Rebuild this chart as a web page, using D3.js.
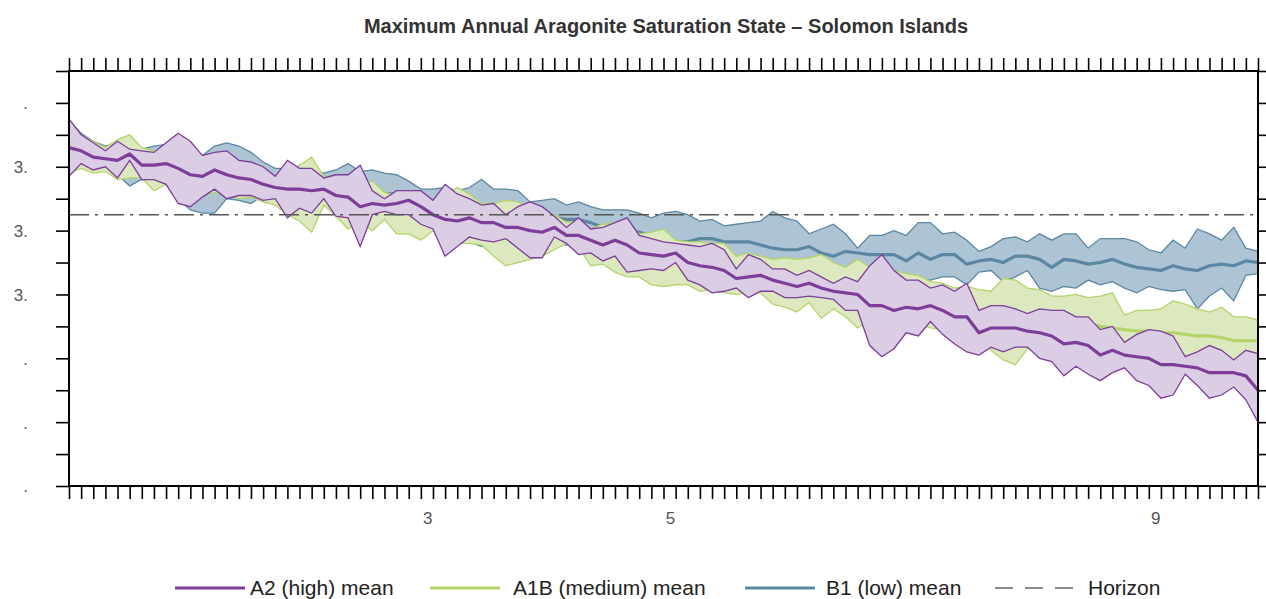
<!DOCTYPE html>
<html>
<head>
<meta charset="utf-8">
<script src="https://cdnjs.cloudflare.com/ajax/libs/d3/7.8.5/d3.min.js"></script>
<style>
body{margin:0;background:#fff;}
svg{display:block;font-family:"Liberation Sans",Arial,sans-serif;}
.axis text{fill:#555;font-size:17px;}
.axis line{stroke:#000;stroke-width:1.6;}
.axis path{display:none;}
</style>
</head>
<body>
<svg id="chart" width="1266" height="599"></svg>
<script>
var years=d3.range(2001,2100);

// A2 (high)
var a2Mean=[3.92,3.90,3.86,3.85,3.84,3.88,3.81,3.81,3.82,3.79, 3.75,3.74,3.78,3.75,3.73,3.72,3.69,3.67,3.66,3.66,
 3.65,3.66,3.62,3.61,3.55,3.57,3.56,3.57,3.59,3.55, 3.50,3.47,3.46,3.48,3.45,3.45,3.42,3.42,3.40,3.39,
 3.42,3.37,3.37,3.34,3.31,3.34,3.31,3.26,3.25,3.24, 3.26,3.20,3.18,3.17,3.15,3.10,3.11,3.12,3.09,3.07,
 3.05,3.07,3.04,3.02,3.01,3.00,2.93,2.93,2.90,2.92, 2.91,2.93,2.90,2.86,2.86,2.76,2.79,2.79,2.79,2.77,
 2.76,2.74,2.69,2.70,2.68,2.62,2.65,2.62,2.61,2.60, 2.56,2.56,2.55,2.54,2.51,2.51,2.51,2.49,2.40];
var a2Hi=[4.10,4.00,3.95,3.90,3.96,3.91,3.90,3.89,3.95,4.01, 3.96,3.87,3.89,3.90,3.84,3.83,3.80,3.74,3.84,3.79,
 3.79,3.73,3.75,3.75,3.81,3.65,3.60,3.65,3.65,3.65, 3.59,3.69,3.63,3.60,3.56,3.57,3.50,3.55,3.58,3.55,
 3.49,3.42,3.48,3.41,3.42,3.45,3.48,3.37,3.35,3.33, 3.32,3.31,3.30,3.32,3.28,3.16,3.25,3.22,3.16,3.16,
 3.12,3.15,3.11,3.07,3.11,3.08,3.18,3.25,3.15,3.09, 3.09,3.04,3.06,3.02,3.07,2.90,2.93,2.93,2.91,2.88,
 2.91,2.90,2.90,2.86,2.86,2.78,2.80,2.70,2.75,2.78, 2.77,2.74,2.61,2.64,2.68,2.65,2.59,2.65,2.63];
var a2Lo=[3.74,3.82,3.78,3.80,3.73,3.84,3.72,3.72,3.69,3.57, 3.55,3.61,3.66,3.60,3.62,3.62,3.59,3.60,3.48,3.54,
 3.51,3.60,3.49,3.48,3.30,3.50,3.52,3.50,3.50,3.44, 3.41,3.24,3.30,3.36,3.34,3.33,3.35,3.29,3.23,3.23,
 3.36,3.32,3.25,3.26,3.21,3.24,3.14,3.15,3.16,3.15, 3.20,3.09,3.06,3.01,3.02,3.04,2.98,3.02,3.02,2.98,
 2.98,2.99,2.98,2.97,2.90,2.90,2.68,2.61,2.66,2.76, 2.74,2.83,2.75,2.69,2.64,2.62,2.67,2.64,2.67,2.67,
 2.60,2.58,2.49,2.55,2.50,2.46,2.51,2.54,2.46,2.43, 2.35,2.37,2.50,2.43,2.35,2.37,2.42,2.34,2.20];

// A1B (medium)
var a1bMean=[3.92,3.90,3.87,3.86,3.86,3.87,3.83,3.82,3.82,3.79, 3.76,3.75,3.76,3.75,3.73,3.72,3.70,3.68,3.67,3.66,
 3.66,3.65,3.63,3.62,3.58,3.58,3.57,3.56,3.56,3.54, 3.51,3.49,3.49,3.49,3.47,3.46,3.44,3.44,3.42,3.41,
 3.42,3.39,3.38,3.36,3.35,3.35,3.33,3.29,3.28,3.27, 3.27,3.24,3.22,3.21,3.19,3.15,3.16,3.15,3.12,3.11,
 3.09,3.10,3.07,3.06,3.04,3.03,3.01,3.00,2.99,2.98, 2.97,2.96,2.95,2.93,2.93,2.88,2.89,2.89,2.88,2.86,
 2.86,2.85,2.84,2.83,2.82,2.80,2.79,2.78,2.77,2.77, 2.76,2.76,2.75,2.74,2.74,2.73,2.71,2.71,2.71];
var a1bHi=[4.08,4.00,3.96,3.92,3.97,4.00,3.92,3.90,3.90,3.88, 3.85,3.84,3.83,3.82,3.81,3.80,3.78,3.72,3.77,3.81,
 3.86,3.74,3.72,3.73,3.70,3.71,3.64,3.62,3.61,3.60, 3.58,3.62,3.67,3.63,3.57,3.57,3.59,3.58,3.54,3.52,
 3.50,3.45,3.46,3.41,3.44,3.45,3.44,3.38,3.39,3.41, 3.34,3.33,3.33,3.32,3.32,3.24,3.26,3.24,3.22,3.23,
 3.22,3.23,3.25,3.20,3.17,3.22,3.17,3.16,3.15,3.13, 3.12,3.08,3.07,3.04,3.05,3.03,3.02,3.10,3.09,3.04,
 3.03,2.99,2.99,3.00,2.98,2.99,3.01,2.87,2.90,2.90, 2.91,2.96,2.94,2.91,2.89,2.92,2.86,2.86,2.84];
var a1bLo=[3.76,3.79,3.76,3.77,3.72,3.73,3.73,3.65,3.69,3.60, 3.58,3.62,3.64,3.62,3.60,3.61,3.58,3.56,3.50,3.46,
 3.39,3.56,3.49,3.41,3.45,3.40,3.47,3.38,3.38,3.34, 3.40,3.30,3.32,3.32,3.31,3.24,3.18,3.20,3.22,3.24,
 3.28,3.32,3.30,3.18,3.19,3.14,3.11,3.11,3.06,3.05, 3.06,3.06,3.02,3.03,3.01,3.00,3.01,3.01,2.94,2.92,
 2.89,2.95,2.85,2.91,2.86,2.79,2.84,2.83,2.82,2.82, 2.81,2.79,2.78,2.77,2.76,2.76,2.65,2.59,2.56,2.66,
 2.70,2.70,2.68,2.69,2.67,2.66,2.67,2.65,2.64,2.64, 2.62,2.63,2.62,2.61,2.60,2.61,2.59,2.60,2.58];

// B1 (low)
var b1Mean=[3.93,3.92,3.88,3.87,3.87,3.86,3.84,3.84,3.83,3.82, 3.80,3.78,3.79,3.78,3.77,3.75,3.74,3.72,3.71,3.70,
 3.70,3.69,3.67,3.68,3.64,3.64,3.63,3.63,3.62,3.60, 3.58,3.57,3.56,3.57,3.56,3.52,3.49,3.50,3.50,3.49,
 3.48,3.47,3.47,3.45,3.42,3.42,3.41,3.39,3.37,3.36, 3.33,3.33,3.35,3.35,3.33,3.33,3.33,3.31,3.29,3.28,
 3.28,3.30,3.26,3.24,3.27,3.26,3.25,3.25,3.25,3.21, 3.26,3.22,3.25,3.25,3.19,3.21,3.22,3.20,3.24,3.24,
 3.22,3.17,3.22,3.21,3.19,3.20,3.22,3.19,3.17,3.16, 3.15,3.18,3.16,3.15,3.18,3.19,3.18,3.21,3.20];
var b1Hi=[4.09,4.01,3.96,3.93,3.95,3.90,3.91,3.93,3.94,3.97, 3.92,3.87,3.93,3.95,3.93,3.89,3.83,3.79,3.79,3.78,
 3.77,3.76,3.78,3.82,3.77,3.78,3.76,3.75,3.71,3.66, 3.66,3.67,3.65,3.67,3.72,3.66,3.66,3.65,3.58,3.59,
 3.60,3.56,3.58,3.55,3.53,3.53,3.53,3.51,3.48,3.51, 3.52,3.50,3.46,3.47,3.43,3.44,3.45,3.46,3.52,3.48,
 3.46,3.38,3.41,3.44,3.38,3.29,3.37,3.37,3.40,3.37, 3.45,3.45,3.38,3.39,3.34,3.27,3.30,3.35,3.36,3.33,
 3.38,3.34,3.38,3.38,3.29,3.35,3.35,3.35,3.33,3.28, 3.26,3.34,3.29,3.41,3.38,3.34,3.42,3.29,3.27];
var b1Lo=[3.76,3.80,3.79,3.79,3.75,3.68,3.72,3.71,3.69,3.60, 3.53,3.51,3.51,3.60,3.59,3.57,3.62,3.60,3.55,3.52,
 3.50,3.58,3.52,3.48,3.45,3.47,3.50,3.45,3.44,3.40, 3.42,3.35,3.33,3.33,3.30,3.32,3.33,3.30,3.28,3.27,
 3.32,3.31,3.31,3.26,3.23,3.24,3.22,3.21,3.20,3.21, 3.19,3.16,3.15,3.16,3.15,3.13,3.14,3.13,3.12,3.11,
 3.10,3.12,3.10,3.09,3.08,3.10,3.09,3.10,3.08,3.07, 3.09,3.09,3.11,3.11,3.06,3.14,3.15,3.08,3.11,3.15,
 3.04,3.02,3.05,3.04,3.09,3.06,3.08,3.04,3.01,3.05, 3.03,3.02,3.03,2.91,2.99,3.04,2.96,3.12,3.13];

var horizon=3.5;

// axis ticks and the labels as they show in the picture
var yTicks=[1.8,2.0,2.2,2.4,2.6,2.8,3.0,3.2,3.4,3.6,3.8,4.0,4.2,4.4];
var yLabelVals=[1.8,2.2,2.6,3.0,3.4,3.8,4.2];
var yLabelText=[".",".",".","3.","3.","3.","."];
var xLabelVals=[2030,2050,2090];
var xLabelText=["3","5","9"];

var svg=d3.select("#chart"),
 margin={top:71,right:8,bottom:113,left:69},
 width=+svg.attr("width")-margin.left-margin.right,
 height=+svg.attr("height")-margin.top-margin.bottom;

var x=d3.scaleLinear().domain([2001,2099]).range([0,width]),
 y=d3.scaleLinear().domain([1.8,4.4]).range([height,0]);

var series=[
 {name:"B1 (low) mean",mean:b1Mean,hi:b1Hi,lo:b1Lo,line:"#5b87a2",fill:"#adc4d5"},
 {name:"A1B (medium) mean",mean:a1bMean,hi:a1bHi,lo:a1bLo,line:"#b4d46a",fill:"#dce9be"},
 {name:"A2 (high) mean",mean:a2Mean,hi:a2Hi,lo:a2Lo,line:"#7d3d98",fill:"#dacde4"}
];

//title
svg.append("text")
 .attr("x",666).attr("y",33)
 .attr("text-anchor","middle")
 .style("font-size","20px").style("font-weight","bold").style("fill","#333")
 .text("Maximum Annual Aragonite Saturation State \u2013 Solomon Islands");

var g=svg.append("g").attr("transform","translate("+margin.left+","+margin.top+")");

//bands and means
series.forEach(function(s){
  var area=d3.area()
   .x(function(d,i){return x(years[i]);})
   .y0(function(d,i){return y(s.lo[i]);})
   .y1(function(d,i){return y(s.hi[i]);});
  var line=function(vals){
    return d3.line().x(function(d,i){return x(years[i]);}).y(function(d){return y(d);})(vals);
  };
  var sg=g.append("g");
  sg.append("path").attr("d",area(years)).attr("fill",s.fill);
  sg.append("path").attr("d",line(s.hi)).attr("fill","none").attr("stroke",s.line).attr("stroke-width",1.3);
  sg.append("path").attr("d",line(s.lo)).attr("fill","none").attr("stroke",s.line).attr("stroke-width",1.3);
  sg.append("path").attr("d",line(s.mean)).attr("fill","none").attr("stroke",s.line).attr("stroke-width",3.2)
   .attr("stroke-linejoin","round");
});

//horizon
g.append("line")
 .attr("x1",0).attr("x2",width)
 .attr("y1",y(horizon)).attr("y2",y(horizon))
 .attr("stroke","#555").attr("stroke-width",1.5)
 .attr("stroke-dasharray","20,6,3,6");

//axes
g.append("g").attr("class","axis")
 .attr("transform","translate(0,"+height+")")
 .call(d3.axisBottom(x).tickValues(years).tickSize(13).tickSizeOuter(0)
  .tickFormat(function(d){var k=xLabelVals.indexOf(d);return k==-1?"":xLabelText[k];}))
 .selectAll("text").attr("y",26).attr("dx","6.5");

g.append("g").attr("class","axis")
 .call(d3.axisTop(x).tickValues(years).tickSize(13).tickSizeOuter(0).tickFormat(""));

g.append("g").attr("class","axis")
 .call(d3.axisLeft(y).tickValues(yTicks).tickSize(13).tickSizeOuter(0)
  .tickFormat(function(d){
    var k=yLabelVals.findIndex(function(v){return Math.abs(v-d)<1e-6;});
    return k==-1?"":yLabelText[k];
  }))
 .selectAll("text").attr("x",-41).attr("dy","0.35em");

g.append("g").attr("class","axis")
 .attr("transform","translate("+width+",0)")
 .call(d3.axisRight(y).tickValues(yTicks).tickSize(13).tickSizeOuter(0).tickFormat(""));

//frame
g.append("rect")
 .attr("width",width).attr("height",height)
 .attr("fill","none").attr("stroke","#000").attr("stroke-width",2);

//legend
var legend=[
 {name:"A2 (high) mean",color:"#7d3d98",x1:175,x2:245,tx:250,dash:null},
 {name:"A1B (medium) mean",color:"#b4d46a",x1:430,x2:500,tx:513,dash:null},
 {name:"B1 (low) mean",color:"#5b87a2",x1:745,x2:815,tx:826,dash:null},
 {name:"Horizon",color:"#666",x1:995,x2:1075,tx:1088,dash:"18,12"}
];
var lg=svg.append("g");
legend.forEach(function(l){
  lg.append("line")
   .attr("x1",l.x1).attr("x2",l.x2).attr("y1",588).attr("y2",588)
   .attr("stroke",l.color).attr("stroke-width",l.dash?1.5:3)
   .attr("stroke-dasharray",l.dash);
  lg.append("text")
   .attr("x",l.tx).attr("y",595)
   .style("font-size","21px").style("fill","#222")
   .text(l.name);
});
</script>
</body>
</html>
